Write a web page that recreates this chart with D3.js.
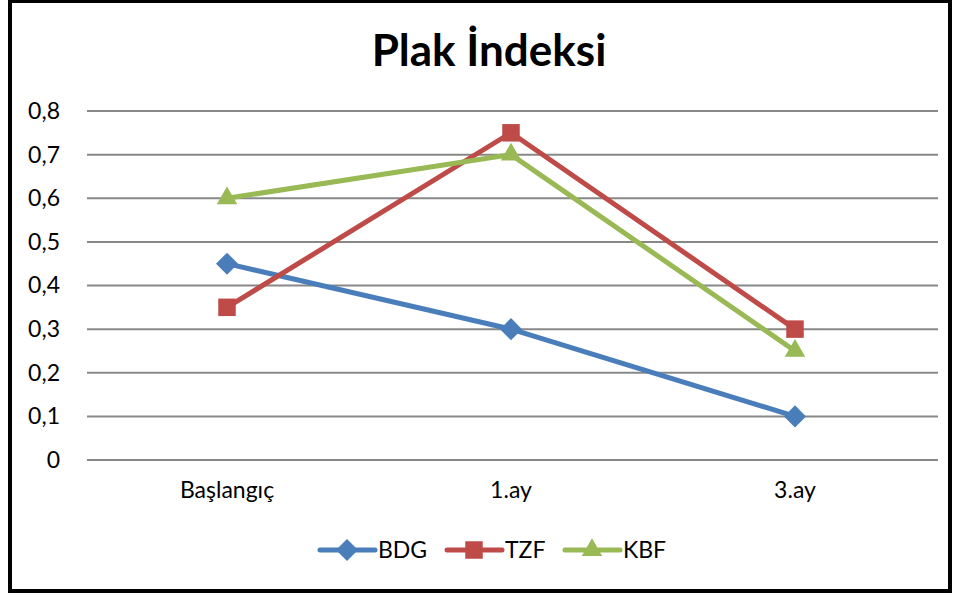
<!DOCTYPE html>
<html><head><meta charset="utf-8">
<script src="https://cdn.jsdelivr.net/npm/d3@7"></script>
<style>body{margin:0;background:#fff}svg{display:block}</style>
</head><body>
<svg id="c" width="960" height="597"></svg>
<script>
const categories = ["Başlangıç", "1.ay", "3.ay"];
const seriesNames = ["BDG", "TZF", "KBF"];
const BDG = [0.45, 0.3, 0.1];
const TZF = [0.35, 0.75, 0.3];
const KBF = [0.6, 0.7, 0.25];
const yTicks = [0, 0.1, 0.2, 0.3, 0.4, 0.5, 0.6, 0.7, 0.8];
const colors = ["#4a7ebb", "#be4b48", "#98b954"];
const symbols = [d3.symbolDiamond2, d3.symbolSquare2, d3.symbolTriangle2];
const symSizes = [310, 390, 300];
const seriesValues = [BDG, TZF, KBF];

const svg = d3.select("#c");
const font = "Lato, 'Open Sans', sans-serif";
svg.append("rect").attr("x", 10).attr("y", 1).attr("width", 940).attr("height", 590)
  .attr("fill", "#fff").attr("stroke", "#000").attr("stroke-width", 4);

svg.append("text").attr("x", 489).attr("y", 66).attr("text-anchor", "middle")
  .attr("font-family", font).attr("font-weight", "bold").attr("font-size", 44)
  .text("Plak İndeksi");

const x = d3.scaleBand().domain(categories).range([85, 937]);
const y = d3.scaleLinear().domain([0, 0.8]).range([460, 111]);

const grid = svg.append("g");
grid.selectAll("line").data(yTicks).join("line")
  .attr("x1", 87).attr("x2", 938)
  .attr("y1", d => y(d)).attr("y2", d => y(d))
  .attr("stroke", "#888").attr("stroke-width", 2);

const fmt = d => d === 0 ? "0" : d3.format(".1f")(d).replace(".", ",");
const yAxis = svg.append("g").attr("transform", "translate(66,0)")
  .call(d3.axisLeft(y).tickValues(yTicks).tickFormat(fmt).tickSize(0).tickPadding(6));
yAxis.select(".domain").remove();
yAxis.selectAll("text").attr("font-family", font).attr("font-size", 23).attr("fill", "#000");

const xAxis = svg.append("g").attr("transform", "translate(0,480)")
  .call(d3.axisBottom(x).tickSize(0).tickPadding(0));
xAxis.select(".domain").remove();
xAxis.selectAll("text").attr("font-family", font).attr("font-size", 23).attr("fill", "#000").attr("dy", "0.8em");

const line = d3.line().x((d, i) => x(categories[i]) + x.bandwidth() / 2).y(d => y(d));
seriesValues.forEach((vals, s) => {
  svg.append("path").datum(vals).attr("d", line).attr("fill", "none")
    .attr("stroke", colors[s]).attr("stroke-width", 5).attr("stroke-linejoin", "round");
});
seriesValues.forEach((vals, s) => {
  svg.append("g").selectAll("path").data(vals).join("path")
    .attr("transform", (d, i) => `translate(${x(categories[i]) + x.bandwidth() / 2},${y(d)})`)
    .attr("d", d3.symbol().type(symbols[s]).size(symSizes[s]))
    .attr("fill", colors[s]);
});

// legend
const legX = [320, 447, 565];
seriesNames.forEach((n, s) => {
  const g = svg.append("g").attr("transform", `translate(${legX[s]},550)`);
  g.append("line").attr("x1", 0).attr("x2", 55).attr("stroke", colors[s]).attr("stroke-width", 5).attr("stroke-linecap", "round");
  g.append("path").attr("transform", "translate(27,0)").attr("d", d3.symbol().type(symbols[s]).size(symSizes[s])).attr("fill", colors[s]);
  g.append("text").attr("x", 58).attr("y", 8).attr("font-family", font).attr("font-size", 23).text(n);
});
</script>
</body></html>
